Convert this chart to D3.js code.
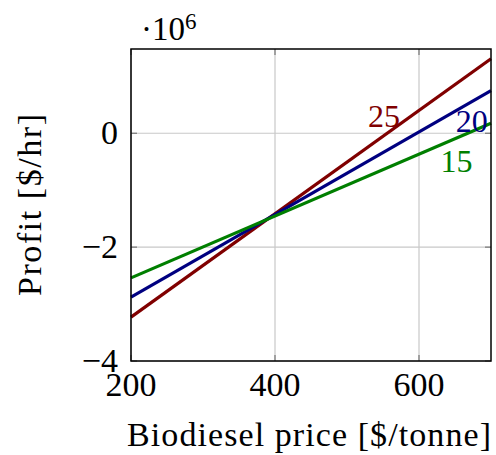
<!DOCTYPE html>
<html>
<head>
<meta charset="utf-8">
<script src="https://cdn.jsdelivr.net/npm/d3@7"></script>
<style>
  body { margin: 0; background: #fff; }
  svg text { font-family: "Liberation Serif", serif; }
</style>
</head>
<body>
<div id="chart"></div>
<script>
// data
var prices = [200, 700];
var profit25 = [-3.23e6, 1.31e6];
var profit20 = [-2.88e6, 0.75e6];
var profit15 = [-2.54e6, 0.175e6];
var seriesNames = ["25", "20", "15"];
var xTicks = [200, 400, 600];
var yTicks = [-4e6, -2e6, 0];

var width = 496, height = 455;
var margin = {top: 49, right: 5, bottom: 94, left: 131};

var svg = d3.select("#chart")
  .append("svg")
  .attr("width", width)
  .attr("height", height);

var xScale = d3.scaleLinear()
  .domain([200, 700])
  .range([margin.left, width - margin.right]);

var yScale = d3.scaleLinear()
  .domain([-4e6, 1.48e6])
  .range([height - margin.bottom, margin.top]);

var colors = ["#800000", "#000080", "#007f00"];
var seriesValues = [profit25, profit20, profit15];

// grid
svg.append("g")
  .selectAll("line")
  .data(xTicks)
  .enter()
  .append("line")
  .attr("x1", d => xScale(d)).attr("x2", d => xScale(d))
  .attr("y1", yScale.range()[0]).attr("y2", yScale.range()[1])
  .attr("stroke", "#c8c8c8")
  .attr("stroke-width", 1.2);

svg.append("g")
  .selectAll("line")
  .data(yTicks)
  .enter()
  .append("line")
  .attr("y1", d => yScale(d)).attr("y2", d => yScale(d))
  .attr("x1", xScale.range()[0]).attr("x2", xScale.range()[1])
  .attr("stroke", "#c8c8c8")
  .attr("stroke-width", 1.2);

// inner tick marks (all four sides)
var tickLen = 6;
xTicks.forEach(function(t) {
  [yScale.range()[0], yScale.range()[1]].forEach(function(y0, i) {
    svg.append("line")
      .attr("x1", xScale(t)).attr("x2", xScale(t))
      .attr("y1", y0).attr("y2", i === 0 ? y0 - tickLen : y0 + tickLen)
      .attr("stroke", "#777").attr("stroke-width", 1.2);
  });
});
yTicks.forEach(function(t) {
  [xScale.range()[0], xScale.range()[1]].forEach(function(x0, i) {
    svg.append("line")
      .attr("y1", yScale(t)).attr("y2", yScale(t))
      .attr("x1", x0).attr("x2", i === 0 ? x0 + tickLen : x0 - tickLen)
      .attr("stroke", "#777").attr("stroke-width", 1.2);
  });
});

// lines
var line = d3.line()
  .x((d, i) => xScale(prices[i]))
  .y(d => yScale(d));

svg.selectAll(".series")
  .data(seriesValues)
  .enter()
  .append("path")
  .attr("class", "series")
  .attr("d", d => line(d))
  .attr("fill", "none")
  .attr("stroke", (d, i) => colors[i])
  .attr("stroke-width", 3.2);

// frame
svg.append("rect")
  .attr("x", xScale.range()[0])
  .attr("y", yScale.range()[1])
  .attr("width", xScale.range()[1] - xScale.range()[0])
  .attr("height", yScale.range()[0] - yScale.range()[1])
  .attr("fill", "none")
  .attr("stroke", "#000")
  .attr("stroke-width", 1.5);

// series labels
var labelPos = [[529, 127], [651, 132], [630, 172]];
svg.selectAll(".lbl")
  .data(seriesNames)
  .enter()
  .append("text")
  .attr("class", "lbl")
  .attr("x", (d, i) => xScale(labelPos[i][0]))
  .attr("y", (d, i) => labelPos[i][1])
  .attr("fill", (d, i) => colors[i])
  .attr("font-size", "32px")
  .text(d => d);

// tick labels
svg.selectAll(".xt")
  .data(xTicks)
  .enter()
  .append("text")
  .attr("x", d => xScale(d))
  .attr("y", height - margin.bottom + 35)
  .attr("text-anchor", "middle")
  .attr("font-size", "34px")
  .text(d => d);

svg.selectAll(".yt")
  .data(yTicks)
  .enter()
  .append("text")
  .attr("x", margin.left - 13)
  .attr("y", d => yScale(d) + 11)
  .attr("text-anchor", "end")
  .attr("font-size", "34px")
  .text(d => d === 0 ? "0" : "\u2212" + Math.abs(d / 1e6));

// exponent
var expo = svg.append("text")
  .attr("x", 141)
  .attr("y", 40)
  .attr("font-size", "33px");
expo.append("tspan").text("\u00b710");
expo.append("tspan").attr("dy", -11).attr("font-size", "23px").text("6");

// axis labels
svg.append("text")
  .attr("x", (xScale.range()[0] + xScale.range()[1]) / 2 - 2)
  .attr("y", 446)
  .attr("text-anchor", "middle")
  .attr("font-size", "34px")
  .attr("textLength", 364)
  .text("Biodiesel price [$/tonne]");

svg.append("text")
  .attr("transform", `translate(${41},${(yScale.range()[0] + yScale.range()[1]) / 2}) rotate(-90)`)
  .attr("text-anchor", "middle")
  .attr("font-size", "34px")
  .attr("textLength", 182)
  .text("Profit [$/hr]");
</script>
</body>
</html>
